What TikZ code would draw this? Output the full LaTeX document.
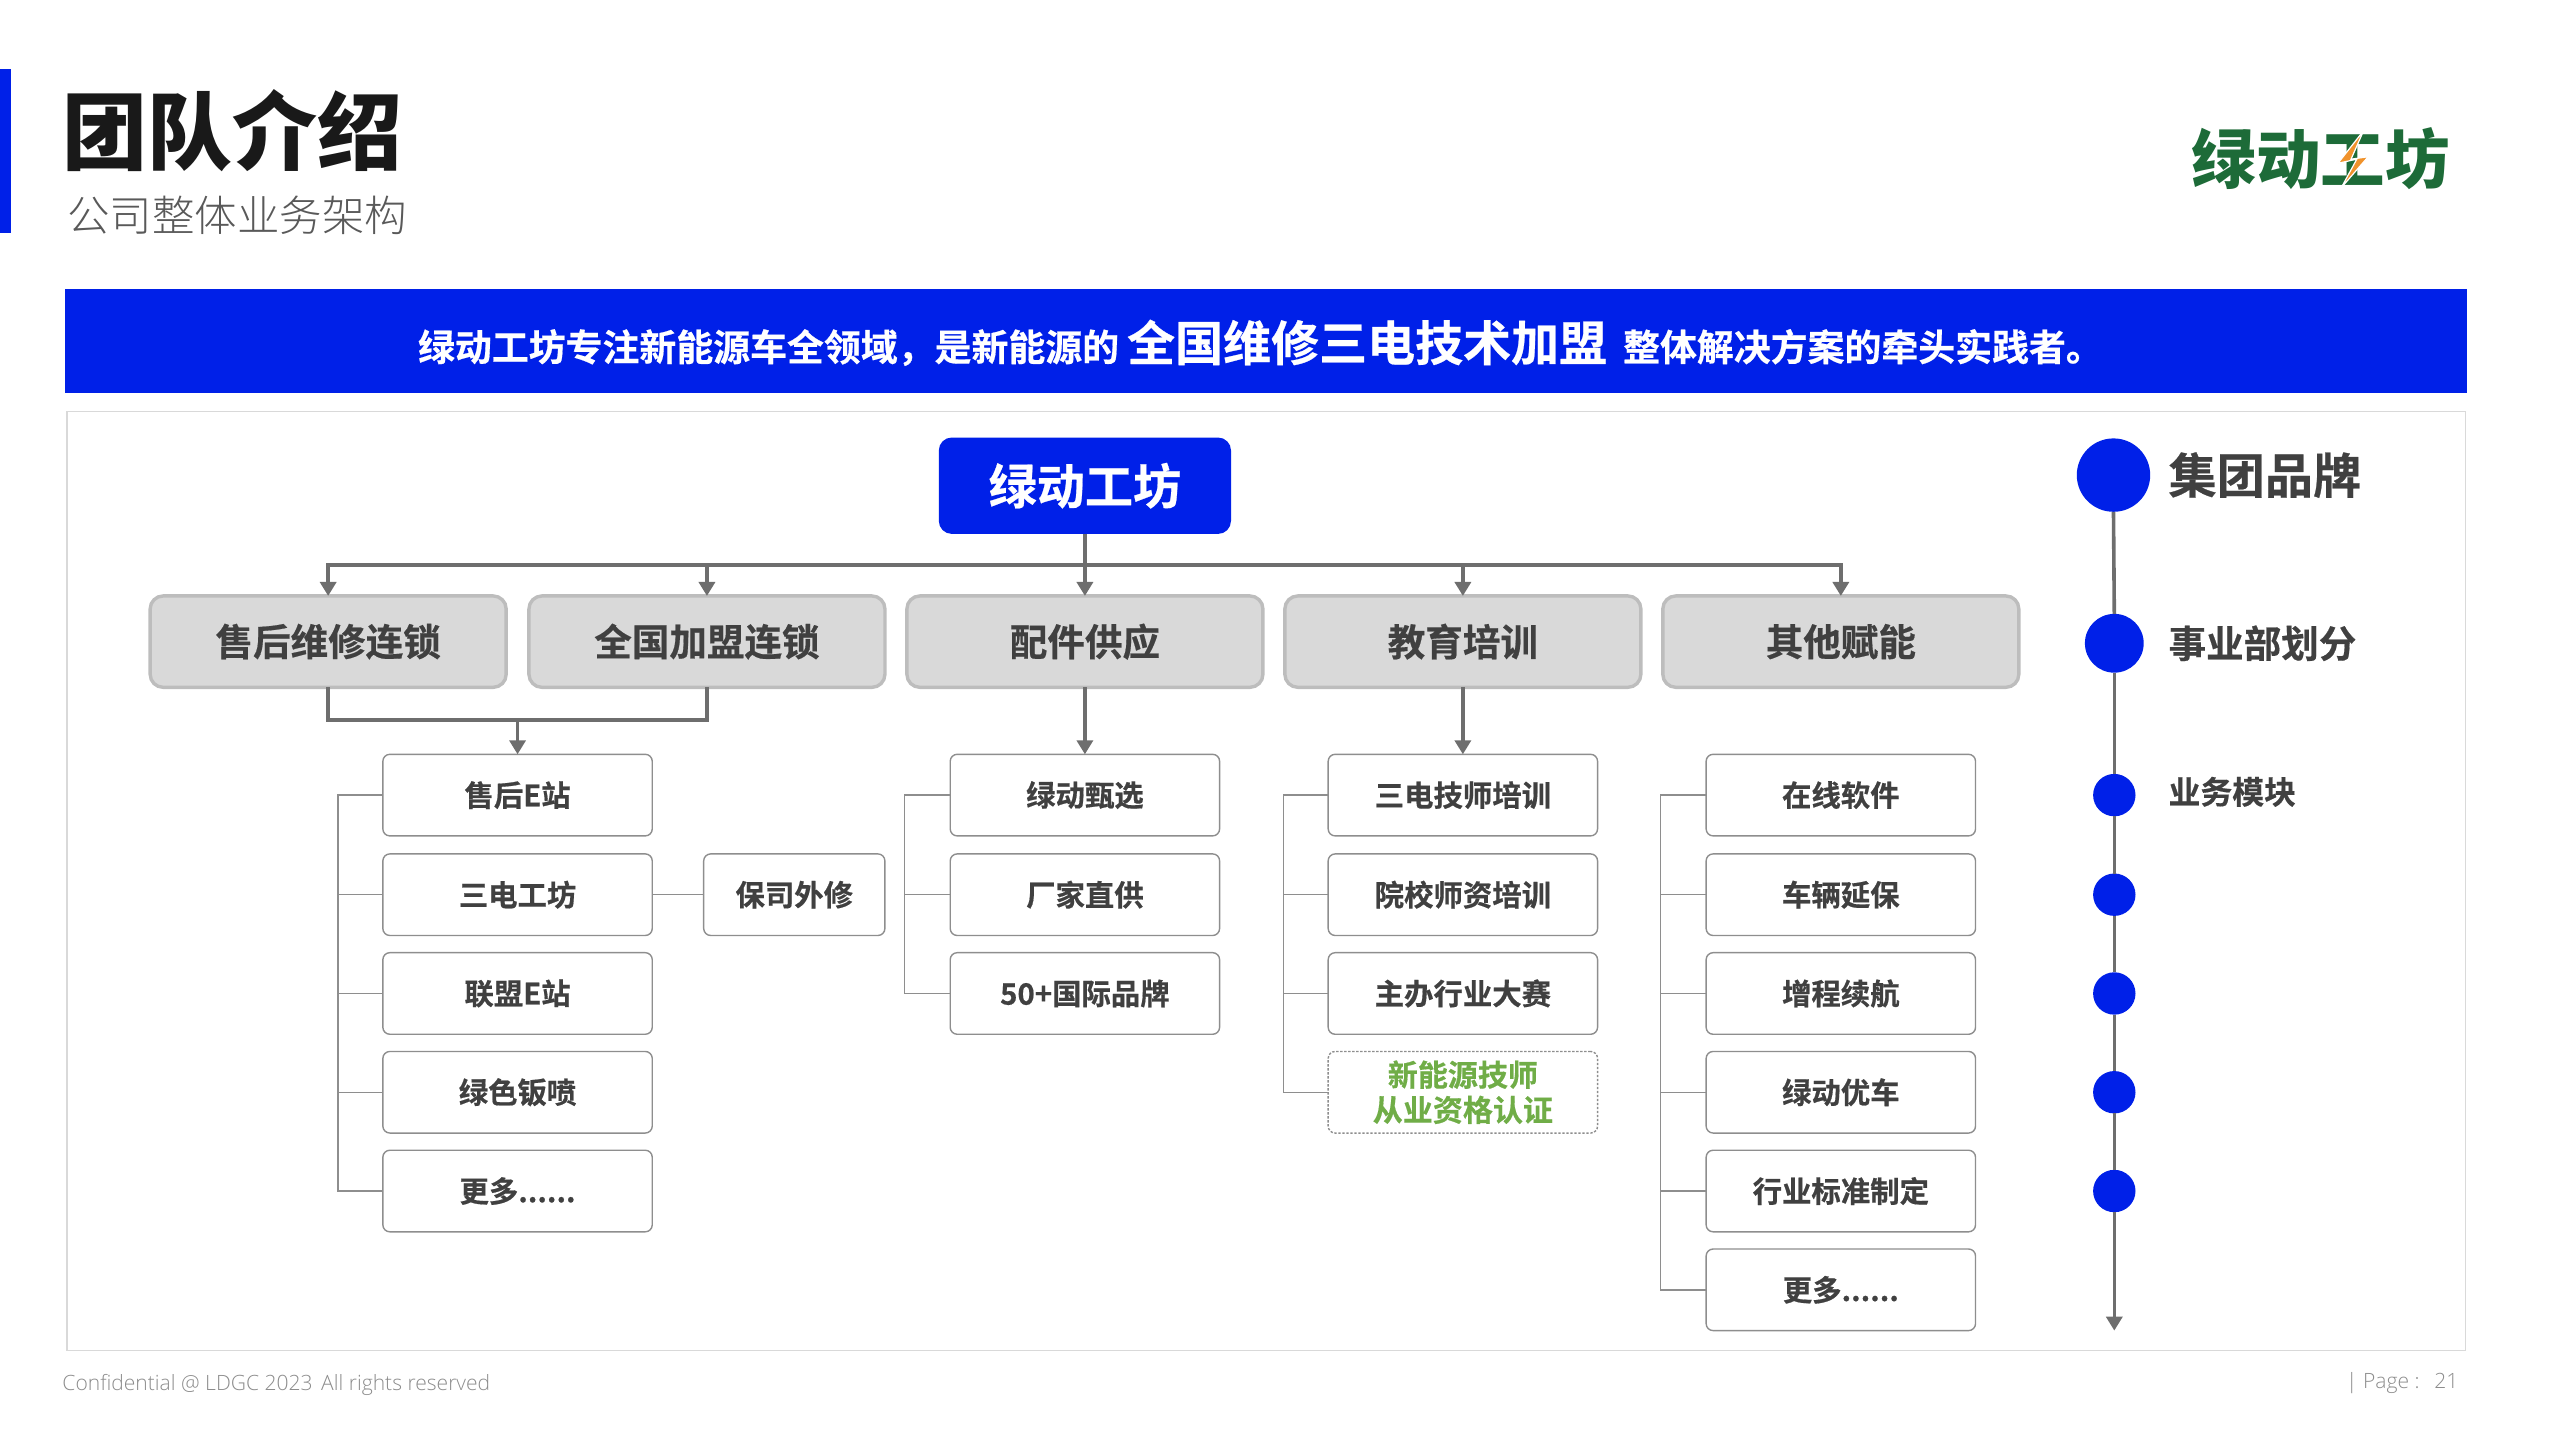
\documentclass[tikz,border=0pt]{standalone}
\usepackage{fontspec}
\usetikzlibrary{arrows.meta,calc}
\setmainfont{Noto Sans CJK SC}[BoldFont={Noto Sans CJK SC Bold},BoldFeatures={FakeBold=0.5}]
\newfontfamily\titlefont{Noto Sans CJK SC Black}
\newfontfamily\lightfont{Noto Sans CJK SC Light}
\newfontfamily\latinfont{Open Sans Light}
\newcommand{\fsz}[2][1.2]{\fontsize{\fpeval{#2*0.81633}pt}{\fpeval{#2*0.81633*#1}pt}\selectfont}
\definecolor{bluemain}{HTML}{0020E8}
\definecolor{linegray}{HTML}{6E6E6E}
\definecolor{thingray}{HTML}{8E8E8E}
\definecolor{txtdark}{HTML}{404040}
\definecolor{lvlfill}{HTML}{D9D9D9}
\definecolor{lvlline}{HTML}{BDBDBD}
\definecolor{certgreen}{HTML}{70AD47}
\definecolor{logogreen}{HTML}{1D6B38}
\definecolor{logoorange}{HTML}{F0922B}
\tikzset{
  x=0.81633pt,y=-0.81633pt,
  rootbox/.style={fill=bluemain,rounded corners=6.5pt,minimum width=146.1pt,minimum height=48.2pt,inner sep=0pt,outer sep=0pt,text=white,font=\bfseries\fsz{29.5}},
  lvlbox/.style={fill=lvlfill,draw=lvlline,line width=1.7pt,rounded corners=6.5pt,minimum width=178pt,minimum height=45.7pt,inner sep=0pt,outer sep=0pt,text=txtdark,font=\bfseries\fsz{23}},
  subbox/.style={fill=white,draw=thingray,line width=0.7pt,rounded corners=3.5pt,minimum width=134.7pt,minimum height=40.8pt,inner sep=0pt,outer sep=0pt,text=txtdark,font=\bfseries\fsz{18}},
  sidebox/.style={subbox,minimum width=90.6pt},
  certbox/.style={subbox,dash pattern=on 1.2pt off 0.8pt,text=certgreen,align=center,font=\bfseries\fsz[1.17]{18.4}},
  thick line/.style={draw=linegray,line width=1.8pt},
  arrowline/.style={thick line,-{Triangle[width=8pt,length=7pt]}},
  thin line/.style={draw=thingray,line width=0.7pt},
  dotbig/.style={circle,fill=bluemain,inner sep=0pt,outer sep=0pt,minimum size=36.7pt},
  dotmid/.style={circle,fill=bluemain,inner sep=0pt,outer sep=0pt,minimum size=29.4pt},
  dotsmall/.style={circle,fill=bluemain,inner sep=0pt,outer sep=0pt,minimum size=21.2pt},
  legendtext/.style={anchor=west,inner sep=0pt,text=txtdark},
}
\begin{document}
\begin{tikzpicture}
\useasboundingbox (0,0) rectangle (1568,882);
% header
\fill[bluemain] (0,42) rectangle (7,143);
\node[anchor=west,inner sep=0pt,text=black!90] (title) at (38,80) {\titlefont\fsz{52}团队介绍};
\node[anchor=west,inner sep=0pt,text=black!65] (subtitle) at (41,132) {\lightfont\fsz{26}公司整体业务架构};
% logo
\node[anchor=center,inner sep=0pt,text=logogreen] (logo) at (1421.5,97) {\titlefont\fsz{39.5}绿动工坊};
\fill[logoorange,draw=white,line width=0.6pt] (1447.7,80) -- (1432,100) -- (1443.5,97.5) -- (1434,115) -- (1450.5,96) -- (1440,97.5) -- cycle;
% banner
\fill[bluemain] (40,177) rectangle (1511,241);
\node[inner sep=0pt,text=white] (banner) at (772,210) {\bfseries\fsz{22.6}绿动工坊专注新能源车全领域，是新能源的\hspace{4pt}{\fsz{29.4}全国维修三电技术加盟}\hspace{8pt}整体解决方案的牵头实践者。};
% panel
\draw[draw=black!15,line width=0.7pt] (41,252) rectangle (1510,827);
% tree
\node[rootbox] (root) at (664.5,297.5) {绿动工坊};
\node[lvlbox] (la) at (201,393) {售后维修连锁};
\node[lvlbox] (lb) at (433,393) {全国加盟连锁};
\node[lvlbox] (lc) at (664.5,393) {配件供应};
\node[lvlbox] (ld) at (896,393) {教育培训};
\node[lvlbox] (le) at (1127.5,393) {其他赋能};
\coordinate (bus) at (664.5,346);
\draw[thick line] (root.south) -- (bus);
\foreach \n in {la,lb,lc,ld,le} \draw[arrowline] (bus) -| (\n.north);
% column a
\node[subbox] (a1) at (317,487) {售后E站};
\node[subbox] (a2) at (317,548) {三电工坊};
\node[subbox] (a3) at (317,608.5) {联盟E站};
\node[subbox] (a4) at (317,669) {绿色钣喷};
\node[subbox] (a5) at (317,729.5) {更多......};
\node[sidebox] (side) at (486.5,548) {保司外修};
\draw[thin line] (a2) -- (side);
\coordinate (mab) at (317,441);
\draw[thick line] (la.south) |- (mab);
\draw[thick line] (lb.south) |- (mab);
\draw[arrowline] (mab) -- (a1.north);
\coordinate (ba) at (207,729.5);
\draw[thin line] (a1.west) -| (ba) -- (a5.west);
\foreach \n in {a2,a3,a4} \draw[thin line] (\n.west) -- (\n.west -| ba);
% column c
\node[subbox] (c1) at (664.5,487) {绿动甄选};
\node[subbox] (c2) at (664.5,548) {厂家直供};
\node[subbox] (c3) at (664.5,608.5) {50+国际品牌};
\draw[arrowline] (lc.south) -- (c1.north);
\coordinate (bc) at (554,608.5);
\draw[thin line] (c1.west) -| (bc) -- (c3.west);
\draw[thin line] (c2.west) -- (c2.west -| bc);
% column d
\node[subbox] (d1) at (896,487) {三电技师培训};
\node[subbox] (d2) at (896,548) {院校师资培训};
\node[subbox] (d3) at (896,608.5) {主办行业大赛};
\node[certbox] (d4) at (896,669) {新能源技师\\从业资格认证};
\draw[arrowline] (ld.south) -- (d1.north);
\coordinate (bd) at (786,669);
\draw[thin line] (d1.west) -| (bd) -- (d4.west);
\foreach \n in {d2,d3} \draw[thin line] (\n.west) -- (\n.west -| bd);
% column e
\node[subbox] (e1) at (1127.5,487) {在线软件};
\node[subbox] (e2) at (1127.5,548) {车辆延保};
\node[subbox] (e3) at (1127.5,608.5) {增程续航};
\node[subbox] (e4) at (1127.5,669) {绿动优车};
\node[subbox] (e5) at (1127.5,729.5) {行业标准制定};
\node[subbox] (e6) at (1127.5,790) {更多......};
\coordinate (be) at (1017,790);
\draw[thin line] (e1.west) -| (be) -- (e6.west);
\foreach \n in {e2,e3,e4,e5} \draw[thin line] (\n.west) -- (\n.west -| be);
% timeline
\coordinate (tend) at (1295,815);
\node[dotbig] (t1) at (1294.5,291) {};
\node[dotmid] (t2) at (1295,394) {};
\node[dotsmall] (t3) at (1295,487) {};
\node[dotsmall] (t4) at (1295,548) {};
\node[dotsmall] (t5) at (1295,608.5) {};
\node[dotsmall] (t6) at (1295,669) {};
\node[dotsmall] (t7) at (1295,729.5) {};
\draw[arrowline] (t7.south) -- (tend);
\draw[thick line] (t1.south) -- (t2.north);
\draw[thick line] (t2.south) -- (t3.north);
\draw[thick line] (t3.south) -- (t4.north);
\draw[thick line] (t4.south) -- (t5.north);
\draw[thick line] (t5.south) -- (t6.north);
\draw[thick line] (t6.south) -- (t7.north);
\node[legendtext] (g1) at (1328,291) {\bfseries\fsz{29.5}集团品牌};
\node[legendtext] (g2) at (1328,394) {\bfseries\fsz{23}事业部划分};
\node[legendtext] (g3) at (1328,485) {\bfseries\fsz{19.5}业务模块};
% footer
\node[anchor=west,inner sep=0pt,text=black!45] (foot) at (38,848) {\latinfont\fsz{12.9}Confidential @ LDGC 2023\hspace{0.4em}All rights reserved};
\node[anchor=east,inner sep=0pt,text=black!45] (page) at (1506,847) {\latinfont\fsz{12.9}| Page :\hspace{0.7em}21};
\end{tikzpicture}
\end{document}
